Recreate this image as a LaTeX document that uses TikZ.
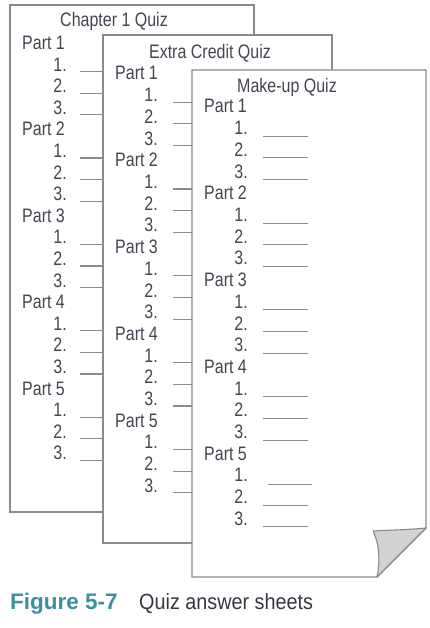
\documentclass[tikz,border=0pt]{standalone}
\usepackage{fontspec}
\setmainfont{Liberation Sans}[FakeStretch=0.82]
\newfontfamily\capfont{Liberation Sans}[FakeStretch=0.9]
\newfontfamily\figfont{Liberation Sans}
\definecolor{ink}{HTML}{454552}
\definecolor{edge}{HTML}{8A8A8A}
\definecolor{figteal}{HTML}{3C8FA0}
\definecolor{flap}{HTML}{D2D2D2}
\begin{document}
\begin{tikzpicture}[x=1pt,y=-1pt,
  sheet/.style={draw=edge,fill=white,line width=1.3pt,line join=miter},
  txt/.style={text=ink,font=\fontsize{19.5}{22}\selectfont,inner sep=0pt},
  blank/.style={draw=edge,line width=1.1pt}]
\useasboundingbox (0,0) rectangle (430,628);
% ---------- sheet 1 ----------
\draw[sheet] (10,5) rectangle (254,512);
\node[txt,anchor=base] (t1) at (114,26.5) {Chapter 1 Quiz};
\foreach \p in {1,...,5}{
  \pgfmathsetmacro\yb{49.5+(\p-1)*4*21.6}
  \node[txt,anchor=base west] (a\p) at (22,\yb) {Part \p};
  \foreach \i in {1,2,3}{
    \pgfmathsetmacro\yi{\yb+\i*21.6}
    \node[txt,anchor=base east] (a\p n\i) at (67,\yi) {\i.};
    \draw[blank] ([xshift=13pt,yshift=-0.5pt]a\p n\i.base east) -- ++(45,0);
  }
}
% ---------- sheet 2 ----------
\draw[sheet] (103,35) rectangle (332,543);
\node[txt,anchor=base] (t2) at (210,59) {Extra Credit Quiz};
\foreach \p in {1,...,5}{
  \pgfmathsetmacro\yb{80+(\p-1)*4*21.7}
  \node[txt,anchor=base west] (b\p) at (115,\yb) {Part \p};
  \foreach \i in {1,2,3}{
    \pgfmathsetmacro\yi{\yb+\i*21.7}
    \node[txt,anchor=base east] (b\p n\i) at (158,\yi) {\i.};
    \draw[blank] ([xshift=15pt,yshift=-0.5pt]b\p n\i.base east) -- ++(45,0);
  }
}
% ---------- sheet 3 ----------
\draw[sheet] (192,70) -- (426,70) -- (426,528) -- (377,577) -- (192,577) -- cycle;
\draw[draw=edge,fill=flap,line width=1.1pt,line join=round]
  (426,528) .. controls (405,530) and (390,530) .. (373,531)
  .. controls (380,545) and (380,562) .. (377,577) -- cycle;
\node[txt,anchor=base] (t3) at (287,92.5) {Make-up Quiz};
\foreach \p in {1,...,5}{
  \pgfmathsetmacro\yb{113+(\p-1)*4*21.7}
  \node[txt,anchor=base west] (c\p) at (204,\yb) {Part \p};
  \foreach \i in {1,2,3}{
    \pgfmathsetmacro\yi{\yb+\i*21.7}
    \node[txt,anchor=base east] (c\p n\i) at (248,\yi) {\i.};
  }
}
\foreach \p in {1,...,4}{
  \foreach \i in {1,2,3}{
    \draw[blank,line width=0.9pt] ([xshift=15pt,yshift=-1.5pt]c\p n\i.base east) -- ++(45,0);
  }
}
\draw[blank,line width=0.9pt] ([xshift=20pt,yshift=-3pt]c5n1.base east) -- ++(44,0);
\foreach \i in {2,3}{
  \draw[blank,line width=0.9pt] ([xshift=15pt,yshift=-1.5pt]c5n\i.base east) -- ++(45,0);
}
% ---------- caption ----------
\node[anchor=base west,inner sep=0pt,text=figteal,font=\figfont\bfseries\fontsize{22.5}{26}\selectfont] (fig) at (10,609) {Figure 5-7};
\node[anchor=base west,inner sep=0pt,text=ink!80!black,font=\capfont\fontsize{22}{26}\selectfont] (cap) at (139,609) {Quiz answer sheets};
\end{tikzpicture}
\end{document}
